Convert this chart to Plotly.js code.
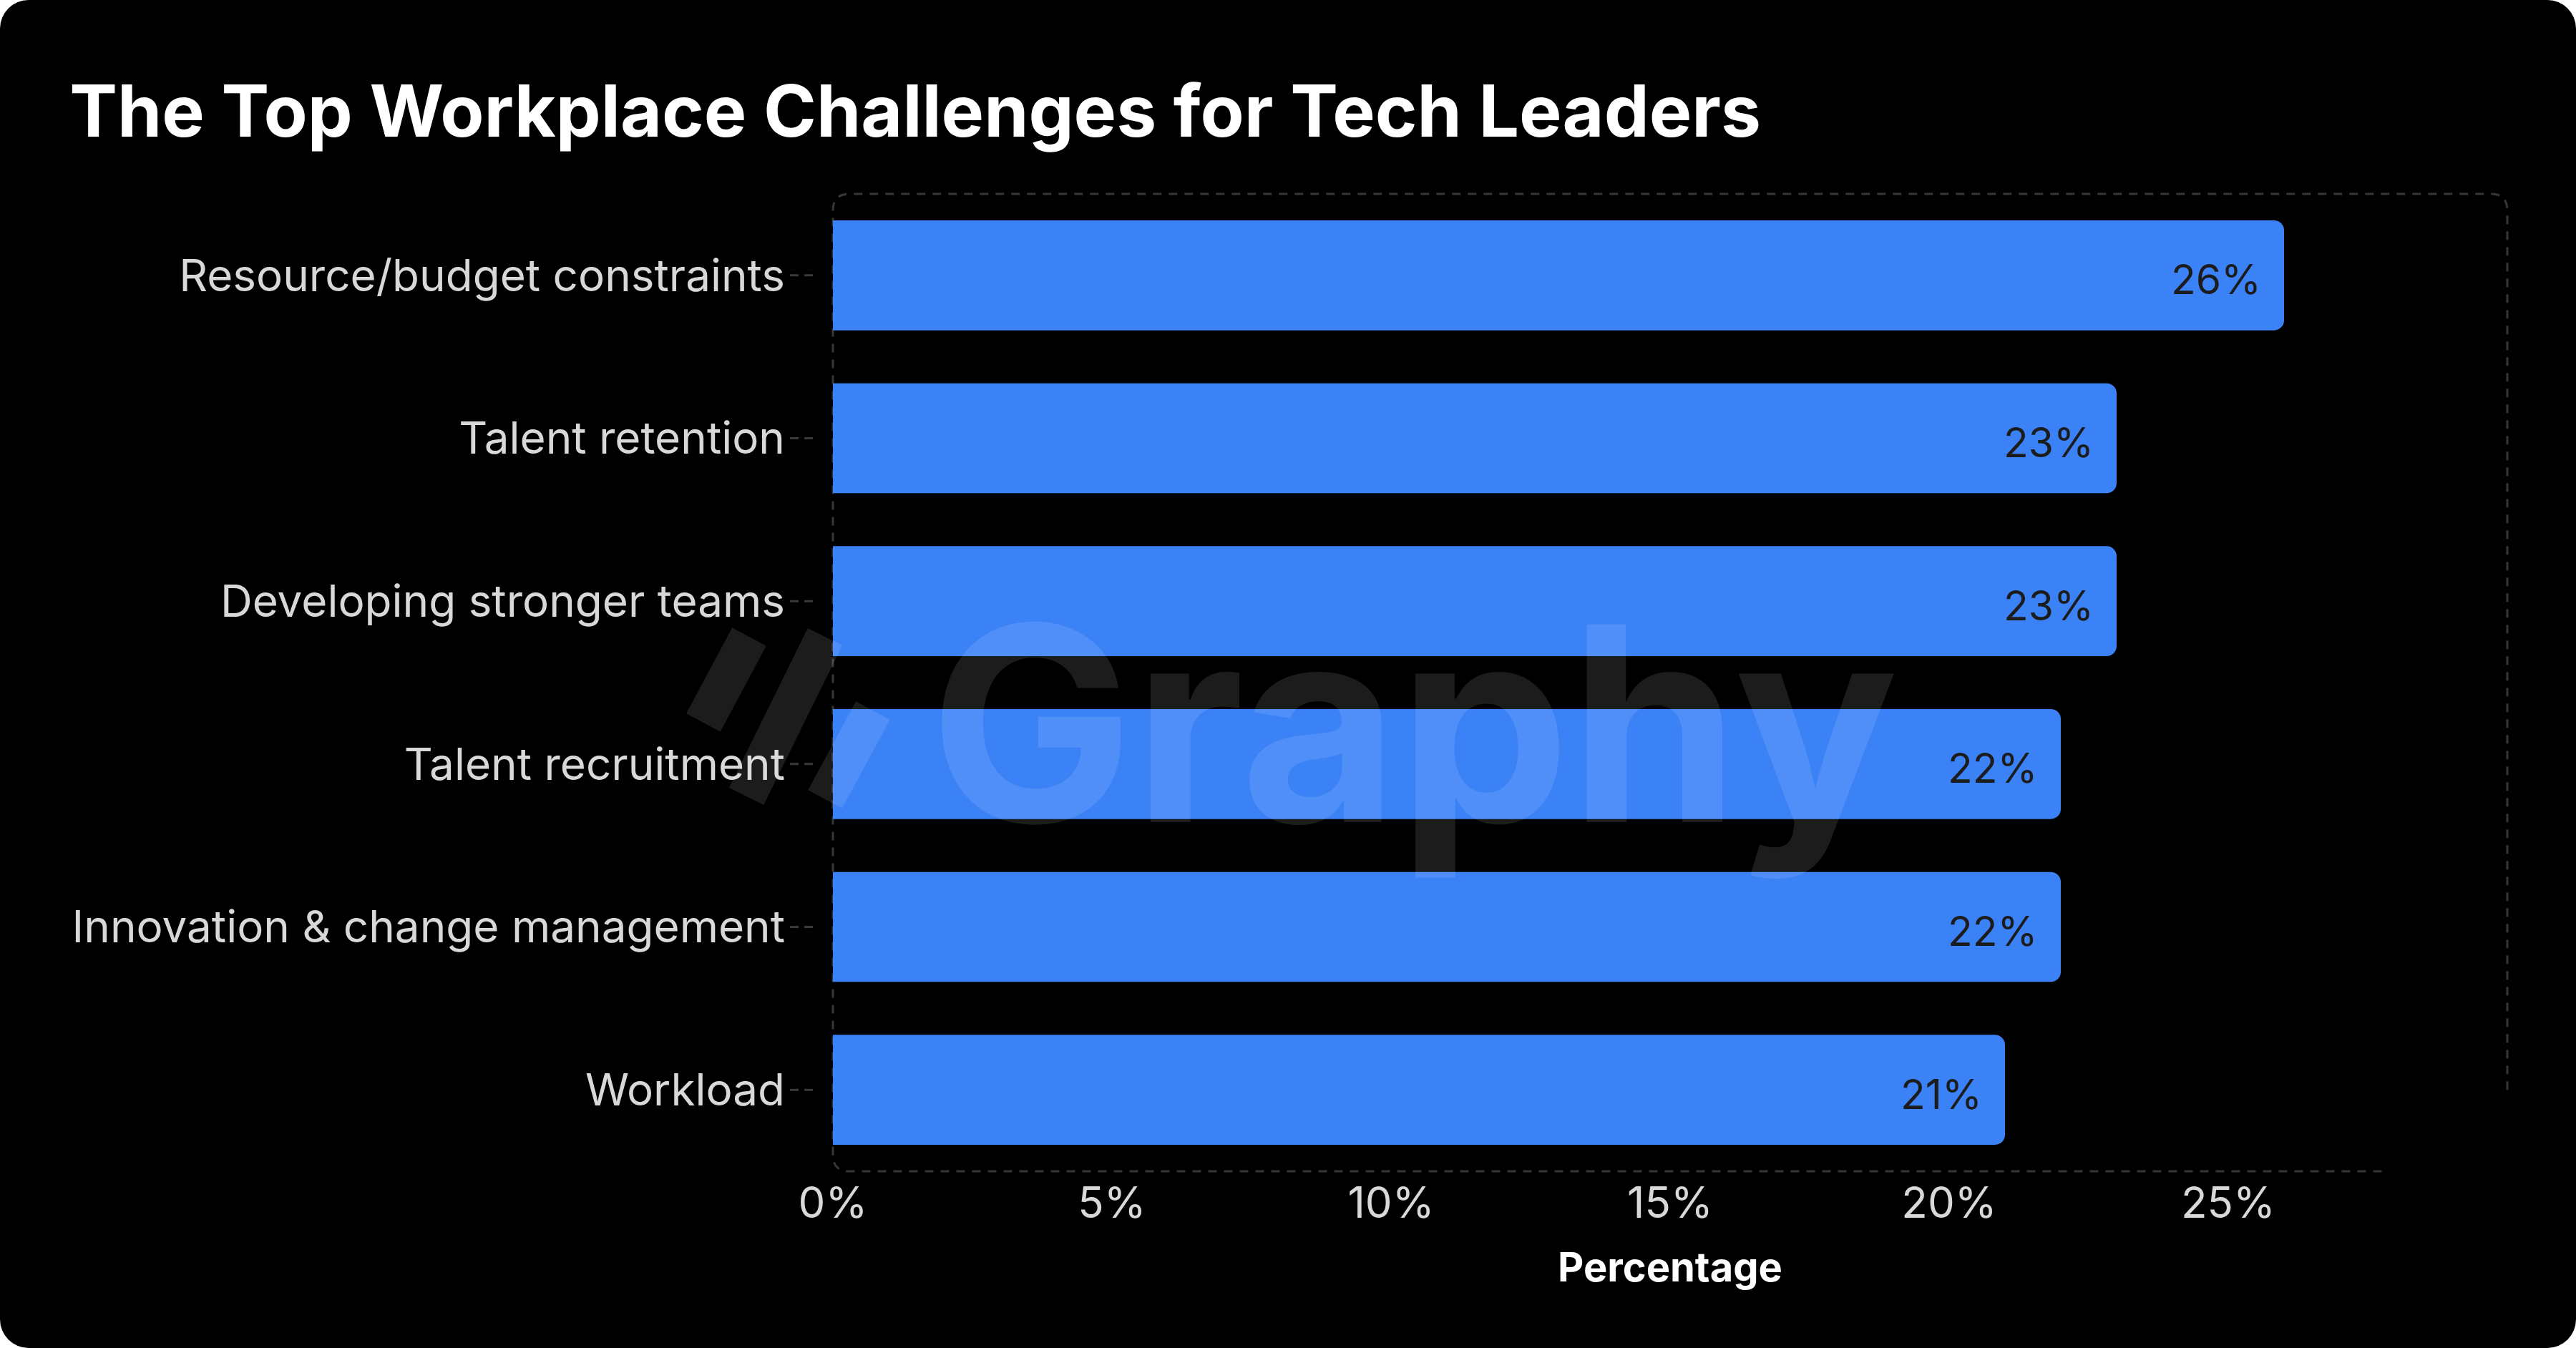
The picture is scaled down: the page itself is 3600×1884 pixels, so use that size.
<!DOCTYPE html>
<html>
<head>
<meta charset="utf-8">
<script src="https://cdn.plot.ly/plotly-3.0.1.min.js"></script>
<style>
	html, body { margin: 0; padding: 0; background: #ffffff; }
	#chart {
		width: 3600px;
		height: 1884px;
		background: #000000;
		border-radius: 40px;
		overflow: hidden;
	}
</style>
</head>
<body>
<div id="chart"></div>
<script>
// challenges, top to bottom
const challenges = [
	'Resource/budget constraints',
	'Talent retention',
	'Developing stronger teams',
	'Talent recruitment',
	'Innovation & change management',
	'Workload',
];
const shares = [26, 23, 23, 22, 22, 21];
const xTicks = [0, 5, 10, 15, 20, 25];

const FONT = 'Inter, "Noto Sans", sans-serif';

function plotChallenges() {
	const trace = {
		type: 'bar',
		orientation: 'h',
		x: shares,
		y: challenges,
		marker: { color: '#3b82f6' },
		hoverinfo: 'skip',
	};

	// value labels sitting just inside the bar ends
	const valueLabels = challenges.map((name, i) => ({
		x: shares[i],
		y: name,
		xref: 'x',
		yref: 'y',
		text: `${shares[i]}%`,
		showarrow: false,
		xanchor: 'right',
		yanchor: 'middle',
		xshift: -30,
		yshift: -6,
		font: { family: FONT, size: 57, color: '#1c1c1c' },
	}));

	// little dashed tick marks next to the category names
	const tickDashes = challenges.map((name) => ({
		type: 'line',
		xref: 'paper',
		yref: 'y',
		x0: -0.0256,
		x1: -0.0115,
		y0: name,
		y1: name,
		line: { color: '#3a3a3a', width: 3, dash: '12px,8px' },
	}));

	const frame = {
		type: 'path',
		xref: 'paper',
		yref: 'paper',
		layer: 'below',
		path: 'M 0.925,0 L 0.0098,0 Q 0,0 0,0.0168 L 0,0.9832 Q 0,1 0.0098,1 L 0.9902,1 Q 1,1 1,0.9832 L 1,0.08',
		line: { color: '#363636', width: 3, dash: '12px,10px' },
	};

	// watermark logo strokes
	const logoColor = 'rgba(255,255,255,0.11)';
	const logo = [
		[-0.05, 0.5469, -0.0774, 0.459],
		[-0.0047, 0.5469, -0.0517, 0.3836],
		[0.0239, 0.4714, -0.0047, 0.3807],
	].map(([x0, y0, x1, y1]) => ({
		type: 'line',
		xref: 'paper',
		yref: 'paper',
		layer: 'above',
		x0, y0, x1, y1,
		line: { color: logoColor, width: 54 },
	}));

	const watermark = {
		xref: 'paper',
		yref: 'paper',
		x: 0.347,
		y: 0.458,
		text: '<b>Graphy</b>',
		showarrow: false,
		xanchor: 'center',
		yanchor: 'middle',
		font: { family: FONT, size: 380, color: logoColor },
	};

	const layout = {
		width: 3600,
		height: 1884,
		margin: { l: 1164, r: 96, t: 271, b: 247 },
		paper_bgcolor: 'rgba(0,0,0,0)',
		plot_bgcolor: 'rgba(0,0,0,0)',
		title: {
			text: '<b>The Top Workplace Challenges for Tech Leaders</b>',
			x: 0.027,
			xanchor: 'left',
			xref: 'container',
			y: 0.917,
			yanchor: 'middle',
			font: { family: FONT, size: 100, color: '#ffffff' },
		},
		bargap: 0.325,
		barcornerradius: 14,
		showlegend: false,
		xaxis: {
			range: [0, 30],
			tickvals: xTicks,
			ticktext: xTicks.map((v) => `${v}%`),
			showgrid: false,
			zeroline: false,
			showline: false,
			ticks: '',
			ticklabelstandoff: 4,
			tickfont: { family: FONT, size: 60, color: '#d8d8d8' },
			title: {
				text: '<b>Percentage</b>',
				standoff: 36,
				font: { family: FONT, size: 56, color: '#ffffff' },
			},
			automargin: false,
		},
		yaxis: {
			range: [5.5, -0.5],
			showgrid: false,
			zeroline: false,
			showline: false,
			ticks: '',
			ticklabelstandoff: 66,
			tickfont: { family: FONT, size: 62, color: '#d8d8d8' },
			automargin: false,
		},
		shapes: [frame, ...tickDashes, ...logo],
		annotations: [...valueLabels, watermark],
	};

	Plotly.newPlot('chart', [trace], layout, { displayModeBar: false, staticPlot: true });
}

plotChallenges();
</script>
</body>
</html>
